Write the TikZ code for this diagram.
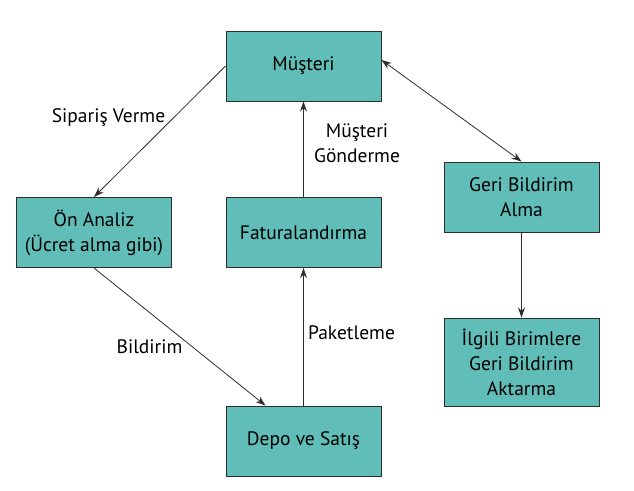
\documentclass[tikz,border=0pt]{standalone}
\usepackage{fontspec}
\setmainfont{PT Sans}
\usetikzlibrary{arrows.meta}
\definecolor{tealfill}{RGB}{96,189,184}
\definecolor{linegray}{RGB}{45,45,45}
\tikzset{
	boxstyle/.style={rectangle,draw=linegray,fill=tealfill,line width=1pt,minimum width=155pt,minimum height=70pt,align=center,inner sep=0pt},
	labelstyle/.style={rectangle,align=center,inner sep=0pt},
	linkstyle/.style={draw=linegray,line width=0.8pt},
	>={Stealth[length=10pt,width=7pt]}
}

\begin{document}
\begin{tikzpicture}[x=1pt,y=-1pt]
		\fontsize{19.5}{25}\selectfont
		\useasboundingbox (0,0) rectangle (634,490);
		\node[boxstyle] (mus) at (303.5,66) {Müşteri};
		\node[boxstyle] (on) at (94,232.5) {Ön Analiz\\(Ücret alma gibi)};
		\node[boxstyle] (fat) at (303.5,232.5) {Faturalandırma};
		\node[boxstyle] (geri) at (521.5,197) {Geri Bildirim\\Alma};
		\node[boxstyle,minimum height=88pt] (ilg) at (521.5,362) {İlgili Birimlere\\Geri Bildirim\\Aktarma};
		\node[boxstyle] (depo) at (303.5,441) {Depo ve Satış};
		\node[labelstyle] (sip) at (108.5,118) {Sipariş Verme};
		\node[labelstyle] (gon) at (357,143) {Müşteri\\Gönderme};
		\node[labelstyle] (bil) at (149.5,347) {Bildirim};
		\node[labelstyle] (pak) at (351.5,333) {Paketleme};
		\draw[linkstyle,->] (mus.west)--(on.north);
		\draw[linkstyle,->] (on.south)--([xshift=-38pt]depo.north);
		\draw[linkstyle,->] (depo.north)--(fat.south);
		\draw[linkstyle,->] (fat.north)--(mus.south);
		\draw[linkstyle,<->] ([yshift=6pt]mus.east)--(geri.north);
		\draw[linkstyle,->] (geri.south)--(ilg.north);
\end{tikzpicture}
\end{document}
